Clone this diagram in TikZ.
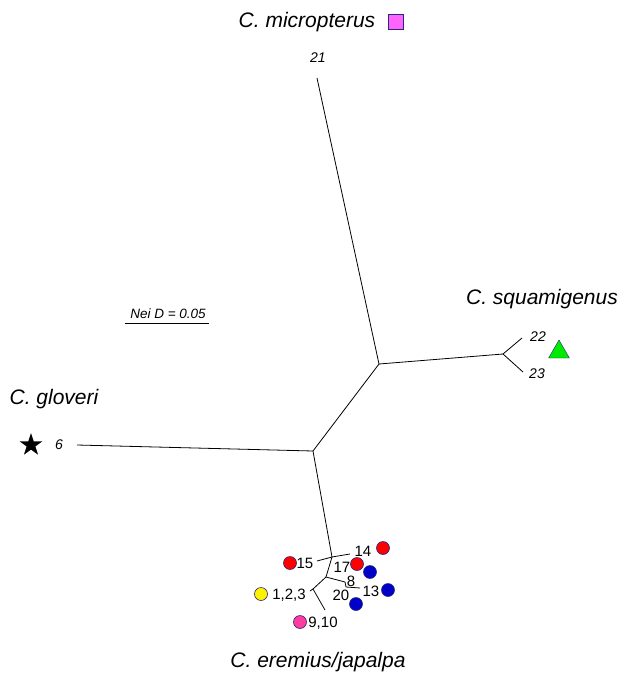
\documentclass[tikz,border=0pt]{standalone}
\usepackage{fontspec}
\setmainfont{Liberation Sans}
\usetikzlibrary{shapes.geometric}
\definecolor{treeblue}{RGB}{0,0,200}
\definecolor{treepink}{RGB}{255,60,160}
\definecolor{treemag}{RGB}{255,100,255}
\definecolor{treegreen}{RGB}{0,235,0}
\definecolor{rim}{RGB}{40,40,120}

\begin{document}
\begin{tikzpicture}[x=1pt, y=-1pt,
    branch/.style={draw, line width=0.8pt},
    taxon/.style={font=\fontsize{21}{25}\selectfont\itshape},
    leaf/.style={font=\fontsize{14}{16}\selectfont\itshape, inner sep=1pt},
    otu/.style={font=\fontsize{15}{17}\selectfont, inner sep=1pt},
    dot/.style={circle, draw=rim, line width=0.6pt, minimum size=13pt, inner sep=0pt}]
    \useasboundingbox (0,0) rectangle (619,673);
    \coordinate (a)   at (379,364);
    \coordinate (b)   at (313,451);
    \coordinate (c)   at (332,557);
    \coordinate (d)   at (326,577);
    \coordinate (e)   at (345,582);
    \coordinate (f)   at (313,589);
    \coordinate (g)   at (503,354);
    \coordinate (t21) at (317,78);
    \coordinate (t22) at (522,338);
    \coordinate (t23) at (523,372);
    \coordinate (t6)  at (77,445);
    \coordinate (t15) at (317,561);
    \coordinate (t14) at (350,554);
    \coordinate (t8)  at (346,587);
    \coordinate (t13) at (360,588);
    \coordinate (t1)  at (310,591);
    \coordinate (t9)  at (325,610);
    \coordinate (s1)  at (125,323);
    \coordinate (s2)  at (209,323);
    \path[branch]
        (a)
            edge (t21)
            edge (g)
            edge (b)
        (g)
            edge (t22)
            edge (t23)
        (b)
            edge (t6)
            edge (c)
        (c)
            edge (t15)
            edge (t14)
            edge (d)
        (d)
            edge (e)
            edge (f)
        (e)
            edge (t8)
        (t8)
            edge (t13)
        (f)
            edge (t1)
            edge (t9)
        (s1)
            edge (s2)
        ;
    \node[taxon] (micro) at (307,22)  {C. micropterus};
    \node[taxon] (squam) at (542,299) {C. squamigenus};
    \node[taxon] (glov)  at (54,399)  {C. gloveri};
    \node[taxon] (erem)  at (318,662) {C. eremius/japalpa};
    \node[leaf] (l21) at (318,58)  {21};
    \node[leaf] (l22) at (538,337) {22};
    \node[leaf] (l23) at (537,374) {23};
    \node[leaf] (l6)  at (59,445)  {6};
    \node[leaf, font=\fontsize{13.5}{15}\selectfont\itshape] (scale) at (168,314) {Nei D = 0.05};
    \node[otu] (o15) at (305,563) {15};
    \node[otu] (o14) at (363,551) {14};
    \node[otu] (o17) at (342,567) {17};
    \node[otu] (o8)  at (351,581) {8};
    \node[otu] (o13) at (371,591) {13};
    \node[otu] (o20) at (341,595) {20};
    \node[otu] (o1)  at (289,595) {1,2,3};
    \node[otu] (o9)  at (323,623) {9,10};
    \node[dot, fill=red]       (d15) at (290,563) {};
    \node[dot, fill=red]       (d14) at (383,548) {};
    \node[dot, fill=red]       (d17) at (357,564) {};
    \node[dot, fill=treeblue]  (d8)  at (370,572) {};
    \node[dot, fill=treeblue]  (d13) at (388,590) {};
    \node[dot, fill=treeblue]  (d20) at (356,604) {};
    \node[dot, fill=yellow]    (d1)  at (261,594) {};
    \node[dot, fill=treepink]  (d9)  at (300,622) {};
    \node[rectangle, draw=rim, fill=treemag, minimum size=15pt, inner sep=0pt] (sq) at (396,22) {};
    \node[regular polygon, regular polygon sides=3, draw=rim, fill=treegreen, minimum size=24pt, inner sep=0pt] (tri) at (559,352) {};
    \node[star, star points=5, star point ratio=2.6, fill=black, minimum size=24pt, inner sep=0pt] (st) at (31,445) {};
\end{tikzpicture}
\end{document}
